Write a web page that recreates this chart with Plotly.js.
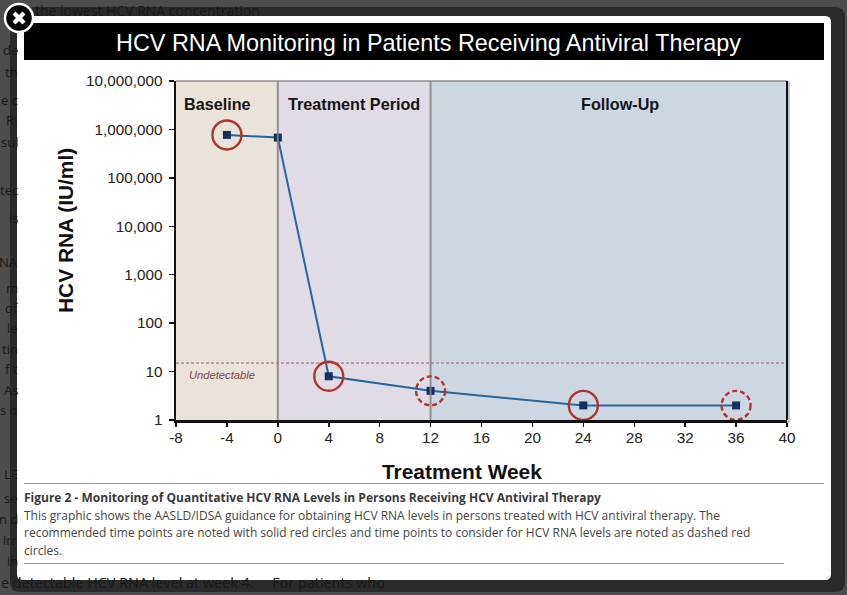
<!DOCTYPE html>
<html>
<head>
<meta charset="utf-8">
<script src="https://cdn.plot.ly/plotly-3.0.1.min.js"></script>
<style>html,body{margin:0;padding:0;background:#4d4d4d;overflow:hidden}</style>
</head>
<body>
<div id="chart" style="width:847px;height:595px"></div>
<script>
const weeks = [-4, 0, 4, 12, 24, 36];
const rnaLevels = [770000, 680000, 8, 4, 2, 2];
const solidCircleWeeks = [-4, 4, 24];
const solidCircleLevels = [770000, 8, 2];
const dashedCircleWeeks = [12, 36];
const dashedCircleLevels = [4, 2];
const undetectableLevel = 15;
const xTicks = [-8, -4, 0, 4, 8, 12, 16, 20, 24, 28, 32, 36, 40];
const yTicks = [1, 10, 100, 1000, 10000, 100000, 1000000, 10000000];
const yTickLabels = ["1", "10", "100", "1,000", "10,000", "100,000", "1,000,000", "10,000,000"];
const phases = [
  {name: "Baseline", from: -8, to: 0, fill: "#e9e3d9", labelPx: 217.5},
  {name: "Treatment Period", from: 0, to: 12, fill: "#e0dbe4", labelPx: 353.5},
  {name: "Follow-Up", from: 12, to: 40, fill: "#cdd7e2", labelPx: 620}
];
const captionTitle = "Figure 2 - Monitoring of Quantitative HCV RNA Levels in Persons Receiving HCV Antiviral Therapy";
const captionLines = [
  "This graphic shows the AASLD/IDSA guidance for obtaining HCV RNA levels in persons treated with HCV antiviral therapy. The",
  "recommended time points are noted with solid red circles and time points to consider for HCV RNA levels are noted as dashed red",
  "circles."
];
const behindLeft = [["de",50],["th",72],["e c",100],["RI",120],["sul",142],["tec",190],["is",218],["NA",262],["m",288],["of",308],["le",328],["tin",349],["f t",369],["As",390],["s o",410],["LE",474],["se",498],["n d",519],["irr",540],["in",561]];

const L = 176, R = 787, T = 81, B = 420;
const circleRadiusPx = 14.5;
const fx = p => (p - L) / (R - L);
const fy = p => (B - p) / (B - T);
const rectPx = (x0, y0, x1, y1, fill, extra) => Object.assign({type:"rect", xref:"paper", yref:"paper", x0:fx(x0), x1:fx(x1), y0:fy(y0), y1:fy(y1), fillcolor:fill, line:{width:0}, layer:"below"}, extra||{});
const linePx = (x0, y0, x1, y1, color, width, layer) => ({type:"line", xref:"paper", yref:"paper", x0:fx(x0), x1:fx(x1), y0:fy(y0), y1:fy(y1), line:{color:color, width:width}, layer:layer||"below"});
const round = (x0, y0, x1, y1, r) => {
  const P = (x, y) => fx(x) + "," + fy(y);
  return "M" + P(x0 + r, y0) + " L" + P(x1 - r, y0) + " Q" + P(x1, y0) + " " + P(x1, y0 + r) +
    " L" + P(x1, y1 - r) + " Q" + P(x1, y1) + " " + P(x1 - r, y1) + " L" + P(x0 + r, y1) +
    " Q" + P(x0, y1) + " " + P(x0, y1 - r) + " L" + P(x0, y0 + r) + " Q" + P(x0, y0) + " " + P(x0 + r, y0) + " Z";
};
const weekPerPx = 48 / (R - L);
const decadePerPx = 7 / (B - T);
const circle = (wk, lvl, dash) => ({
  type:"circle", xref:"x", yref:"y",
  x0:wk - circleRadiusPx * weekPerPx, x1:wk + circleRadiusPx * weekPerPx,
  y0:lvl / Math.pow(10, circleRadiusPx * decadePerPx), y1:lvl * Math.pow(10, circleRadiusPx * decadePerPx),
  line:{color:"#b0332e", width:2.4, dash:dash}, fillcolor:"rgba(0,0,0,0)", layer:"above"
});
const textPx = (x, y, text, font, anchor) => ({xref:"paper", yref:"paper", x:fx(x), y:fy(y), text:text, showarrow:false, xanchor:anchor||"left", yanchor:"middle", font:font, align:"left", borderpad:0, borderwidth:0});

const shapes = [
  {type:"path", xref:"paper", yref:"paper", path:round(10, 7, 845, 592, 10), fillcolor:"#2a2a2a", line:{width:0}, layer:"below"},
  {type:"path", xref:"paper", yref:"paper", path:round(17, 16, 831, 580, 6), fillcolor:"#ffffff", line:{width:0}, layer:"below"},
  rectPx(24, 23, 824, 60, "#000000"),
  linePx(24, 483.5, 824, 483.5, "#999999", 1),
  linePx(24, 563.5, 784, 563.5, "#999999", 1)
];
phases.forEach(p => shapes.push({type:"rect", xref:"x", yref:"y domain", x0:p.from, x1:p.to, y0:0, y1:1, fillcolor:p.fill, line:{width:0}, layer:"below"}));
shapes.push({type:"line", xref:"x domain", yref:"y domain", x0:0, x1:1, y0:1, y1:1, line:{color:"#8c8c8c", width:1.5}, layer:"below"});
shapes.push({type:"line", xref:"x domain", yref:"y", x0:0, x1:1, y0:undetectableLevel, y1:undetectableLevel, line:{color:"#a5565a", width:1, dash:"3px,2px"}, layer:"below"});
shapes.push(linePx(R + 2, T, R + 2, B + 2, "rgba(0,0,0,0.22)", 2));
shapes.push(linePx(L, B + 2, R + 2, B + 2, "rgba(0,0,0,0.22)", 2));
shapes.push({type:"line", xref:"x", yref:"y domain", x0:0, x1:0, y0:0, y1:1, line:{color:"rgba(130,130,130,0.85)", width:2}, layer:"above"});
shapes.push({type:"line", xref:"x", yref:"y domain", x0:12, x1:12, y0:0, y1:1, line:{color:"rgba(130,130,130,0.85)", width:2}, layer:"above"});
shapes.push({type:"line", xref:"x domain", yref:"y domain", x0:1, x1:1, y0:0, y1:1, line:{color:"#111111", width:2}, layer:"above"});
solidCircleWeeks.forEach((w, i) => shapes.push(circle(w, solidCircleLevels[i], "solid")));
dashedCircleWeeks.forEach((w, i) => shapes.push(circle(w, dashedCircleLevels[i], "5px,3px")));
// close button
shapes.push({type:"circle", xref:"paper", yref:"paper", x0:fx(5), x1:fx(33), y0:fy(4), y1:fy(32), fillcolor:"#000000", line:{color:"#ffffff", width:2.5}, layer:"above"});
shapes.push(linePx(14, 13, 24, 23, "#ffffff", 4.2, "above"));
shapes.push(linePx(24, 13, 14, 23, "#ffffff", 4.2, "above"));

const sans = "'Liberation Sans', Arial, sans-serif";
const open = "'Open Sans', sans-serif";
const annotations = [];
phases.forEach(p => annotations.push(textPx(p.labelPx, 103.5, "<b>" + p.name + "</b>", {family:sans, size:16.2, color:"#151515"}, "center")));
annotations.push(textPx(222, 375, "<i>Undetectable</i>", {family:sans, size:11.2, color:"#7c4650"}, "center"));
annotations.push(textPx(24, 498, "<b>" + captionTitle + "</b>", {family:open, size:12, color:"#3a3a3a"}));
captionLines.forEach((t, i) => annotations.push(textPx(24, 515.5 + i * 17.3, t, {family:open, size:12, color:"#444444"})));
annotations.push(textPx(35, 10, "the lowest HCV RNA concentration", {family:open, size:14, color:"#181818"}));
annotations.push(textPx(1, 582, "e detectable HCV RNA level at week 4.&nbsp;&nbsp;&nbsp;&nbsp;&nbsp;For patients who", {family:open, size:14.4, color:"#181818"}));
behindLeft.forEach(b => annotations.push(textPx(17.5, b[1], b[0], {family:open, size:13, color:"#181818"}, "right")));
annotations.push(textPx(462, 471, "<b>Treatment Week</b>", {family:sans, size:20.9, color:"#111111"}, "center"));
annotations.push(Object.assign(textPx(65.5, 230.5, "<b>HCV RNA (IU/ml)</b>", {family:sans, size:20.9, color:"#111111"}, "center"), {textangle:-90}));

const traces = [{
  x: weeks, y: rnaLevels, type:"scatter", mode:"lines+markers",
  line:{color:"#26669b", width:2},
  marker:{symbol:"square", size:8, color:"#15305f"},
  hoverinfo:"x+y", showlegend:false
}];

const layout = {
  width:847, height:595,
  margin:{l:L, r:847 - R, t:T, b:595 - B, pad:0},
  paper_bgcolor:"#4d4d4d", plot_bgcolor:"rgba(0,0,0,0)",
  showlegend:false,
  title:{text:"HCV RNA Monitoring in Patients Receiving Antiviral Therapy", x:fx(428.5), xref:"paper", xanchor:"center", y:1 - 43 / 595, yref:"container", yanchor:"middle", font:{family:sans, size:23.4, color:"#ffffff"}},
  xaxis:{
    type:"linear", range:[-8, 40], tickmode:"array", tickvals:xTicks, ticktext:xTicks.map(String),
    showgrid:false, zeroline:false, showline:true, linecolor:"#111111", linewidth:2.5,
    ticks:"outside", ticklen:4, tickwidth:1.5, tickcolor:"#111111", ticklabelstandoff:-2,
    tickfont:{family:sans, size:15.3, color:"#222222"}
  },
  yaxis:{
    type:"log", range:[0, 7], tickmode:"array", tickvals:yTicks, ticktext:yTickLabels,
    showgrid:false, zeroline:false, showline:true, linecolor:"#111111", linewidth:2.5,
    ticks:"outside", ticklen:5, tickwidth:1.5, tickcolor:"#111111", ticklabelstandoff:3,
    tickfont:{family:sans, size:15.3, color:"#222222"}
  },
  shapes:shapes, annotations:annotations
};
Plotly.newPlot("chart", traces, layout, {displayModeBar:false, staticPlot:true});
</script>
</body>
</html>
